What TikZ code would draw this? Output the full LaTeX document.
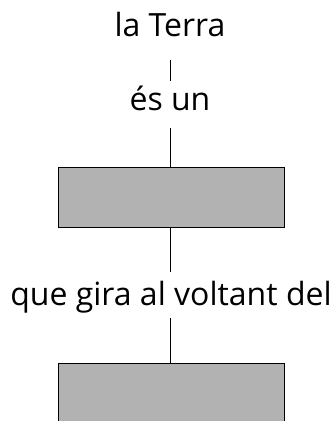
\documentclass[tikz,border=0pt]{standalone}
\usepackage{fontspec}
\setmainfont{Open Sans}
\begin{document}
\begin{tikzpicture}[x=1pt,y=1pt,
  lbl/.style={inner sep=0pt, anchor=base, font=\fontsize{32}{38}\selectfont},
  concept/.style={draw=black, line width=1pt, fill=black!30, minimum width=226pt, minimum height=60pt, inner sep=0pt},
  link/.style={draw=black, line width=0.8pt}]
\useasboundingbox (0,0) rectangle (335,-421);
\clip (0,0) rectangle (335,-421);
\node[lbl] (t1) at (170,-36) {la Terra};
\node[lbl] (t2) at (170,-110) {és un};
\node[concept] (b1) at (171,-197) {};
\node[lbl] (t3) at (171,-305) {que gira al voltant del};
\node[concept] (b2) at (171,-393) {};
\draw[link] ([yshift=-24pt]t1.base) -- ([yshift=29pt]t2.base);
\draw[link] ([yshift=-18pt]t2.base) -- (b1.north -| t2.base);
\draw[link] (b1.south -| t2.base) -- ([yshift=33pt]t2.base |- t3.base);
\draw[link] ([yshift=-13pt]t2.base |- t3.base) -- (b2.north -| t2.base);
\end{tikzpicture}
\end{document}
